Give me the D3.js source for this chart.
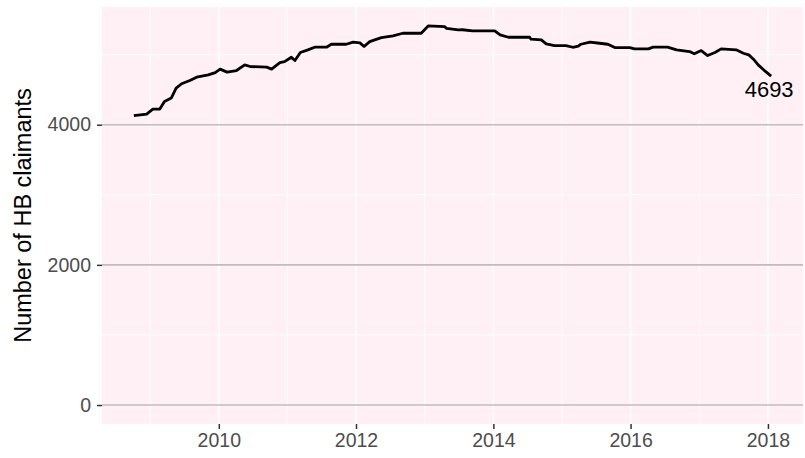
<!DOCTYPE html>
<html>
<head>
<meta charset="utf-8">
<script src="https://cdn.jsdelivr.net/npm/d3@7"></script>
<style>
  body { margin: 0; background: #fff; }
  #canvas { width: 805px; height: 458px; }
  text { font-family: "Liberation Sans", Arial, sans-serif; }
</style>
</head>
<body>
<div id="canvas" class="canvas"></div>
<script>
// data
var dates = ["2008-10-06","2008-12-13","2009-01-15","2009-02-21","2009-03-18","2009-04-23",
  "2009-05-19","2009-06-17","2009-07-31","2009-09-05","2009-11-06","2009-12-13",
  "2010-01-08","2010-02-14","2010-04-05","2010-05-19","2010-06-17","2010-09-13",
  "2010-10-09","2010-11-22","2010-12-17","2011-01-22","2011-02-10","2011-03-11",
  "2011-04-20","2011-05-26","2011-07-28","2011-08-23","2011-11-10","2011-12-17",
  "2012-01-22","2012-02-13","2012-03-14","2012-05-15","2012-07-16","2012-09-06",
  "2012-12-13","2013-01-19","2013-04-16","2013-04-27","2013-06-28","2013-07-20",
  "2013-09-13","2014-01-08","2014-02-06","2014-03-22","2014-07-13","2014-07-20",
  "2014-09-13","2014-10-09","2014-11-22","2015-01-22","2015-02-28","2015-03-29",
  "2015-04-12","2015-05-30","2015-07-20","2015-09-02","2015-10-09","2015-12-28",
  "2016-01-22","2016-04-05","2016-04-30","2016-07-16","2016-09-02","2016-11-10",
  "2016-12-05","2017-01-11","2017-02-14","2017-03-25","2017-04-27","2017-07-16",
  "2017-08-23","2017-09-21","2017-10-16","2017-11-10","2017-12-09","2018-01-18"];
var claimants = [4128,4152,4223,4223,4332,4380,
  4522,4584,4630,4678,4712,4744,
  4793,4750,4773,4854,4830,4821,
  4793,4887,4901,4963,4916,5030,
  5068,5106,5106,5148,5148,5177,
  5167,5115,5186,5243,5267,5305,
  5305,5409,5399,5375,5352,5355,
  5338,5338,5281,5248,5248,5220,
  5210,5153,5129,5129,5105,5120,
  5148,5177,5162,5148,5100,5100,
  5082,5082,5106,5106,5068,5044,
  5011,5058,4987,5030,5082,5068,
  5020,4996,4935,4854,4783,4693];
var xTickYears = [2010,2012,2014,2016,2018];
var xMinorYears = [2009,2011,2013,2015,2017];
var yTicks = [0,2000,4000];
var yMinor = [1000,3000,5000];

var parseDate = d3.timeParse("%Y-%m-%d");
var rows = dates.map(function(d,i){ return {date: parseDate(d), value: claimants[i]}; });

var outerWidth = 805, outerHeight = 458;
var m = {t:7, r:2, b:34, l:102};
var w = outerWidth - m.l - m.r,
    h = outerHeight - m.t - m.b;

var svg = d3.select('.canvas')
    .append('svg')
    .attr('width',outerWidth)
    .attr('height',outerHeight);

var plot = svg.append('g')
    .attr('transform','translate(' + m.l + ',' + m.t + ')');

// ggplot style 5% expansion
var ext = d3.extent(rows, function(d){ return +d.date; });
var padX = (ext[1]-ext[0])*0.05;
var scaleX = d3.scaleTime()
    .domain([new Date(ext[0]-padX), new Date(ext[1]+padX)])
    .range([0,w]);

var maxY = d3.max(rows, function(d){ return d.value; });
var padY = maxY*0.05;
var scaleY = d3.scaleLinear()
    .domain([-padY, maxY+padY])
    .range([h,0]);

function yearDate(y){ return new Date(y,0,1); }

//panel
plot.append('rect')
    .attr('width',w).attr('height',h)
    .attr('fill','#FFF0F5');

//minor grid
plot.selectAll('.minor-x').data(xMinorYears).enter().append('line')
    .attr('x1',function(d){ return scaleX(yearDate(d)); })
    .attr('x2',function(d){ return scaleX(yearDate(d)); })
    .attr('y1',0).attr('y2',h)
    .attr('stroke','#fff').attr('stroke-width',0.9);
plot.selectAll('.minor-y').data(yMinor).enter().append('line')
    .attr('x1',0).attr('x2',w)
    .attr('y1',function(d){ return scaleY(d); })
    .attr('y2',function(d){ return scaleY(d); })
    .attr('stroke','#fff').attr('stroke-width',0.9);

//major grid
plot.selectAll('.major-x').data(xTickYears).enter().append('line')
    .attr('x1',function(d){ return scaleX(yearDate(d)); })
    .attr('x2',function(d){ return scaleX(yearDate(d)); })
    .attr('y1',0).attr('y2',h)
    .attr('stroke','#fff').attr('stroke-width',1.6);
plot.selectAll('.major-y').data(yTicks).enter().append('line')
    .attr('x1',0).attr('x2',w)
    .attr('y1',function(d){ return scaleY(d); })
    .attr('y2',function(d){ return scaleY(d); })
    .attr('stroke','#BEBEBE').attr('stroke-width',1.6);

//axes
var axisX = d3.axisBottom(scaleX)
    .tickValues(xTickYears.map(yearDate))
    .tickFormat(d3.timeFormat('%Y'))
    .tickSize(5)
    .tickPadding(4);
var gx = plot.append('g')
    .attr('transform','translate(0,'+h+')')
    .call(axisX);

var axisY = d3.axisLeft(scaleY)
    .tickValues(yTicks)
    .tickFormat(d3.format('d'))
    .tickSize(5)
    .tickPadding(6);
var gy = plot.append('g').call(axisY);

[gx,gy].forEach(function(g){
  g.select('.domain').remove();
  g.selectAll('.tick line').attr('stroke','#333333').attr('stroke-width',1.5);
  g.selectAll('.tick text')
    .attr('fill','#4D4D4D')
    .style('font-size','19.5px')
    .style('font-family','"Liberation Sans", Arial, sans-serif');
});

//line
var line = d3.line()
    .x(function(d){ return scaleX(d.date); })
    .y(function(d){ return scaleY(d.value); });

plot.append('path')
    .datum(rows)
    .attr('d',line)
    .attr('fill','none')
    .attr('stroke','#000')
    .attr('stroke-width',2.8)
    .attr('stroke-linejoin','round');

//last value label
var last = rows[rows.length-1];
plot.append('text')
    .attr('x',scaleX(last.date)-2)
    .attr('y',scaleY(last.value)+21)
    .attr('text-anchor','middle')
    .style('font-size','22px')
    .attr('fill','#000')
    .text(last.value);

//y title
svg.append('text')
    .attr('transform','translate(31,'+(m.t+h/2)+') rotate(-90)')
    .attr('text-anchor','middle')
    .style('font-size','23.5px')
    .attr('fill','#000')
    .text('Number of HB claimants');
</script>
</body>
</html>
